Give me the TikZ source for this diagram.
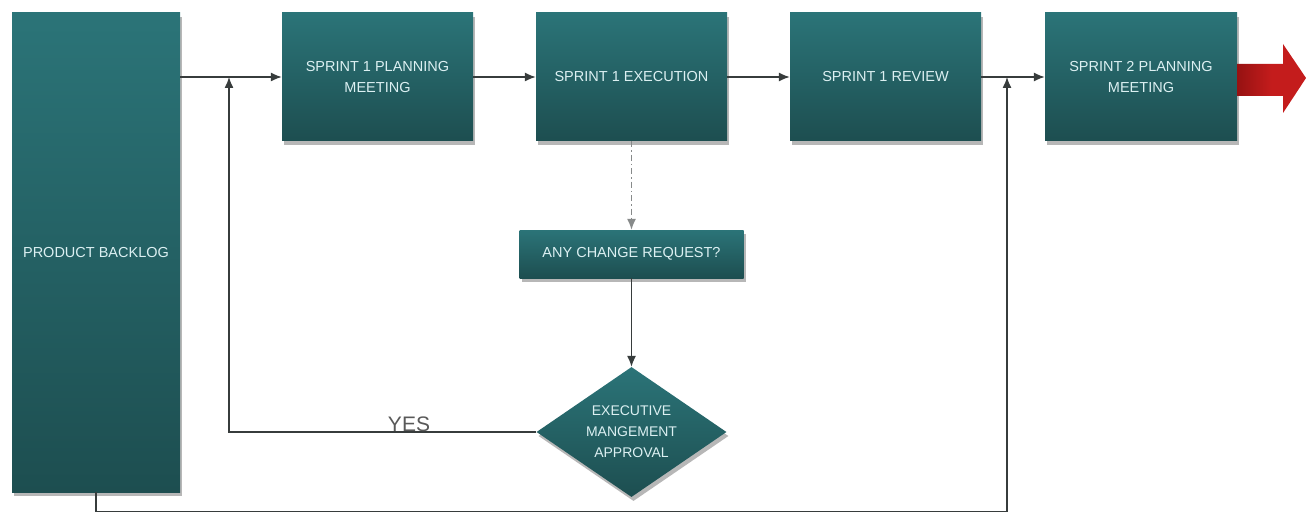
\documentclass[tikz,border=0pt]{standalone}
\usepackage{fontspec}
\setmainfont{Liberation Sans}
\usetikzlibrary{arrows.meta,shapes.geometric,shadows,calc}
\definecolor{tealtop}{RGB}{43,116,120}
\definecolor{tealbot}{RGB}{29,78,80}
\definecolor{lbl}{RGB}{220,240,242}
\definecolor{conn}{RGB}{55,60,60}
\definecolor{arrowred}{RGB}{196,28,28}
\definecolor{arrowdark}{RGB}{150,18,18}
\tikzset{
  stepbox/.style={draw=none, top color=tealtop, bottom color=tealbot,
    text=lbl, align=center, inner sep=2pt,
    font=\fontsize{14.5}{21}\selectfont,
    drop shadow={shadow xshift=2pt, shadow yshift=-4pt, opacity=0.4, fill=black!70}},
  decide/.style={stepbox, diamond, shape aspect=1.46, inner sep=0pt, font=\fontsize{14}{21}\selectfont},
  arr/.style={draw=conn, line width=1.3pt, -{Latex[length=11pt,width=9pt]}},
}
\begin{document}
\begin{tikzpicture}[x=1pt,y=-1pt]
\useasboundingbox (0,0) rectangle (1306,513);

% backlog column and sprint boxes
\node[stepbox, minimum width=168pt, minimum height=479pt] (pb) at (96,252.5) {PRODUCT BACKLOG};
\node[stepbox, minimum width=191pt, minimum height=128pt] (p1) at (377.5,77) {SPRINT 1 PLANNING\\MEETING};
\node[stepbox, minimum width=191pt, minimum height=128pt] (ex) at (631.5,77) {SPRINT 1 EXECUTION};
\node[stepbox, minimum width=191pt, minimum height=128pt] (rv) at (885.5,77) {SPRINT 1 REVIEW};
\node[stepbox, minimum width=192pt, minimum height=128pt] (p2) at (1141,77) {SPRINT 2 PLANNING\\MEETING};

% change request path
\node[stepbox, minimum width=224pt, minimum height=48pt] (cr) at (631.5,254) {ANY CHANGE REQUEST?};
\node[decide, minimum width=190pt, minimum height=130pt] (ea) at (631.5,432) {EXECUTIVE\\MANGEMENT\\APPROVAL};

% junction points on the main line
\coordinate (j1) at (229,77);
\coordinate (j2) at (1007,77);

% main flow
\draw[arr] (pb.east |- p1.west) -- (p1.west);
\draw[arr] (p1.east) -- (ex.west);
\draw[arr] (ex.east) -- (rv.west);
\draw[arr] (rv.east) -- (p2.west);

% change request flow
\draw[arr, draw=conn!60, dash pattern=on 6pt off 3pt on 1.5pt off 3pt] (ex.south) -- (cr.north);
\draw[arr] (cr.south) -- (ea.north);
\draw[arr] (ea.west) -| (j1);
\node[text=black!65, font=\fontsize{21}{24}\selectfont, anchor=base] (yes) at (409,431) {YES};

% return from the backlog to the next sprint
\draw[arr] (pb.south) -- ++(0,19) -| (j2);

% continuation arrow
\path[left color=arrowdark, right color=arrowred, middle color=arrowred]
  (1237,64) -- (1283,64) -- (1283,44) -- (1306,78) -- (1283,113) -- (1283,96) -- (1237,96) -- cycle;
\end{tikzpicture}
\end{document}
